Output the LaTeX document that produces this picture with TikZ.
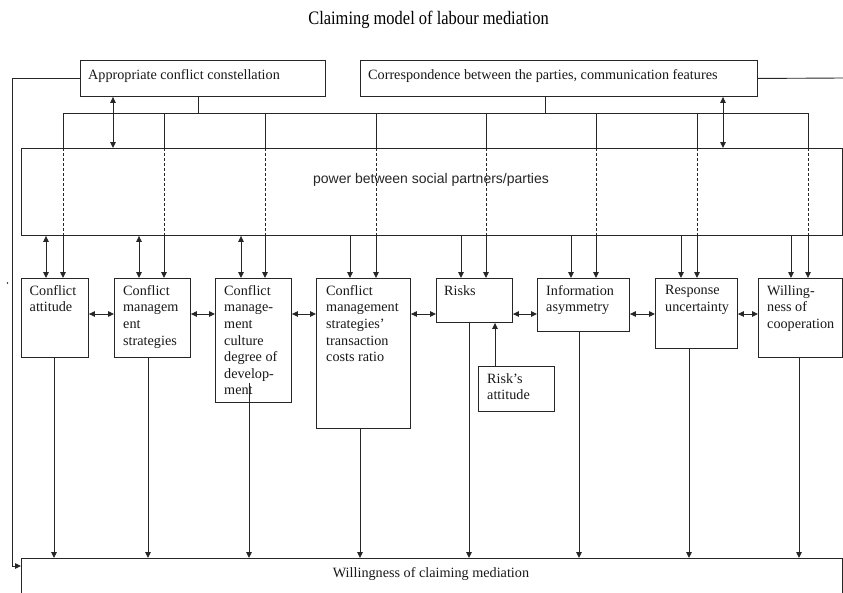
\documentclass[tikz,border=0pt]{standalone}
\usepackage{fontspec}
\setmainfont{Liberation Serif}
\newfontfamily\powerfont{Liberation Sans}
\usetikzlibrary{arrows.meta,calc}
\begin{document}
\begin{tikzpicture}[x=1pt,y=-1pt,
  ln/.style={line width=0.9pt, draw=black!85},
  box/.style={ln, rectangle, fill=white, inner sep=0pt, anchor=north west},
  lbl/.style={anchor=north west, align=left, inner sep=0pt, font=\fontsize{14.2}{16.6}\selectfont, text=black!90},
  arr/.style={ln, -{Triangle[length=6pt,width=5.5pt]}},
  darr/.style={ln, {Triangle[length=6pt,width=5.5pt]}-{Triangle[length=6pt,width=5.5pt]}},
  dline/.style={ln, dash pattern=on 3pt off 2pt}
]
\useasboundingbox (0,0) rectangle (843,592);

% title
\node[anchor=base, inner sep=0pt] (title) at (428.5,24)
  {\scalebox{0.866}[1]{\fontsize{19}{22}\selectfont Claiming model of labour mediation}};

% top boxes
\node[box, minimum width=245pt, minimum height=36pt] (a1) at (80,60) {};
\node[lbl, anchor=base west] (a1t) at (88,79) {Appropriate conflict constellation};
\node[box, minimum width=397pt, minimum height=36pt] (a2) at (360,60) {};
\node[lbl, anchor=base west] (a2t) at (368,79) {Correspondence between the parties, communication features};

% power box
\node[box, minimum width=821pt, minimum height=87pt] (pw) at (21,148) {};
\node[anchor=base, inner sep=0pt, font=\powerfont\fontsize{14}{16}\selectfont, text=black!85] (pwt) at (431,183) {power between social partners/parties};

% row boxes
\node[box, minimum width=67pt, minimum height=79pt] (c1) at (21,278) {};
\node[box, minimum width=76pt, minimum height=79pt] (c2) at (114,278) {};
\node[box, minimum width=76pt, minimum height=124pt] (c3) at (215,278) {};
\node[box, minimum width=94pt, minimum height=150pt] (c4) at (316,278) {};
\node[box, minimum width=76pt, minimum height=44pt] (c5) at (436,278) {};
\node[box, minimum width=92pt, minimum height=53pt] (c6) at (537,278) {};
\node[box, minimum width=82pt, minimum height=70pt] (c7) at (655,278) {};
\node[box, minimum width=84pt, minimum height=79pt] (c8) at (758,278) {};
\node[box, minimum width=76pt, minimum height=45pt] (ra) at (478,366) {};

\node[lbl] (c1t) at ($(c1.north west)+(8.5,7)$) {Conflict\\attitude};
\node[lbl] (c2t) at ($(c2.north west)+(9,7)$) {Conflict\\managem\\ent\\strategies};
\node[lbl] (c3t) at ($(c3.north west)+(9,7)$) {Conflict\\manage-\\ment\\culture\\degree of\\develop-\\ment};
\node[lbl] (c4t) at ($(c4.north west)+(10,7)$) {Conflict\\management\\strategies'\\transaction\\costs ratio};
\node[lbl] (c5t) at ($(c5.north west)+(8,7)$) {Risks};
\node[lbl] (c6t) at ($(c6.north west)+(9,7)$) {Information\\asymmetry};
\node[lbl] (c7t) at ($(c7.north west)+(10,7)$) {Response\\uncertainty};
\node[lbl] (c8t) at ($(c8.north west)+(9,7)$) {Willing-\\ness of\\cooperation};
\node[lbl] (rat) at ($(ra.north west)+(9,7)$) {Risk's\\attitude};

% bottom box
\node[box, minimum width=821pt, minimum height=50pt] (bot) at (21,558) {};
\node[lbl, anchor=base] (bott) at (431,577) {Willingness of claiming mediation};

% bus from top boxes
\coordinate (s1) at (198,113);
\coordinate (s2) at (545,113);
\coordinate (bl) at (63,113);
\coordinate (br) at (808,113);
\draw[ln] (a1.south -| s1) -- (s1);
\draw[ln] (a2.south -| s2) -- (s2);
\draw[ln] (bl) -- (br);
\foreach \x/\c in {63/c1,164/c2,265/c3,376/c4,486/c5,596/c6,697/c7,808/c8} {
  \coordinate (t) at (\x,113);
  \draw[ln] (t) -- (t |- pw.north);
  \draw[dline] (t |- pw.north) -- (t |- pw.south);
  \draw[arr] (t |- pw.south) -- (t |- \c.north);
}

% top double arrows
\coordinate (d1) at (113,120);
\coordinate (d2) at (723,120);
\draw[darr] (a1.south -| d1) -- (pw.north -| d1);
\draw[darr] (a2.south -| d2) -- (pw.north -| d2);

% power to boxes
\foreach \x/\c in {46/c1,139/c2,241/c3} {
  \coordinate (t) at (\x,250);
  \draw[darr] (t |- pw.south) -- (t |- \c.north);
}
\foreach \x/\c in {350/c4,461/c5,571/c6,681/c7,791/c8} {
  \coordinate (t) at (\x,250);
  \draw[arr] (t |- pw.south) -- (t |- \c.north);
}

% horizontal double arrows
\coordinate (hy) at (0,314);
\draw[darr] (c1.east |- hy) -- (c2.west |- hy);
\draw[darr] (c2.east |- hy) -- (c3.west |- hy);
\draw[darr] (c3.east |- hy) -- (c4.west |- hy);
\draw[darr] (c4.east |- hy) -- (c5.west |- hy);
\draw[darr] (c5.east |- hy) -- (c6.west |- hy);
\draw[darr] (c6.east |- hy) -- (c7.west |- hy);
\draw[darr] (c7.east |- hy) -- (c8.west |- hy);

% risk's attitude to risks
\coordinate (rx) at (495,340);
\draw[arr] (ra.north -| rx) -- (c5.south -| rx);

% down to bottom box
\foreach \x/\c in {54/c1,148/c2,360/c4,469/c5,579/c6,689/c7,799/c8} {
  \coordinate (t) at (\x,500);
  \draw[arr] (t |- \c.south) -- (t |- bot.north);
}
\coordinate (v3) at (249,383);
\draw[arr] (v3) -- (v3 |- bot.north);

% left loop and right line
\coordinate (lp) at (12,566);
\draw[arr] (a1.west) -| (lp) -- (lp -| bot.west);
\coordinate (rp) at (843,78);
\draw[ln] (a2.east) -- (rp);

\fill[black!85] (7.5,283) circle (0.9);
\end{tikzpicture}
\end{document}
